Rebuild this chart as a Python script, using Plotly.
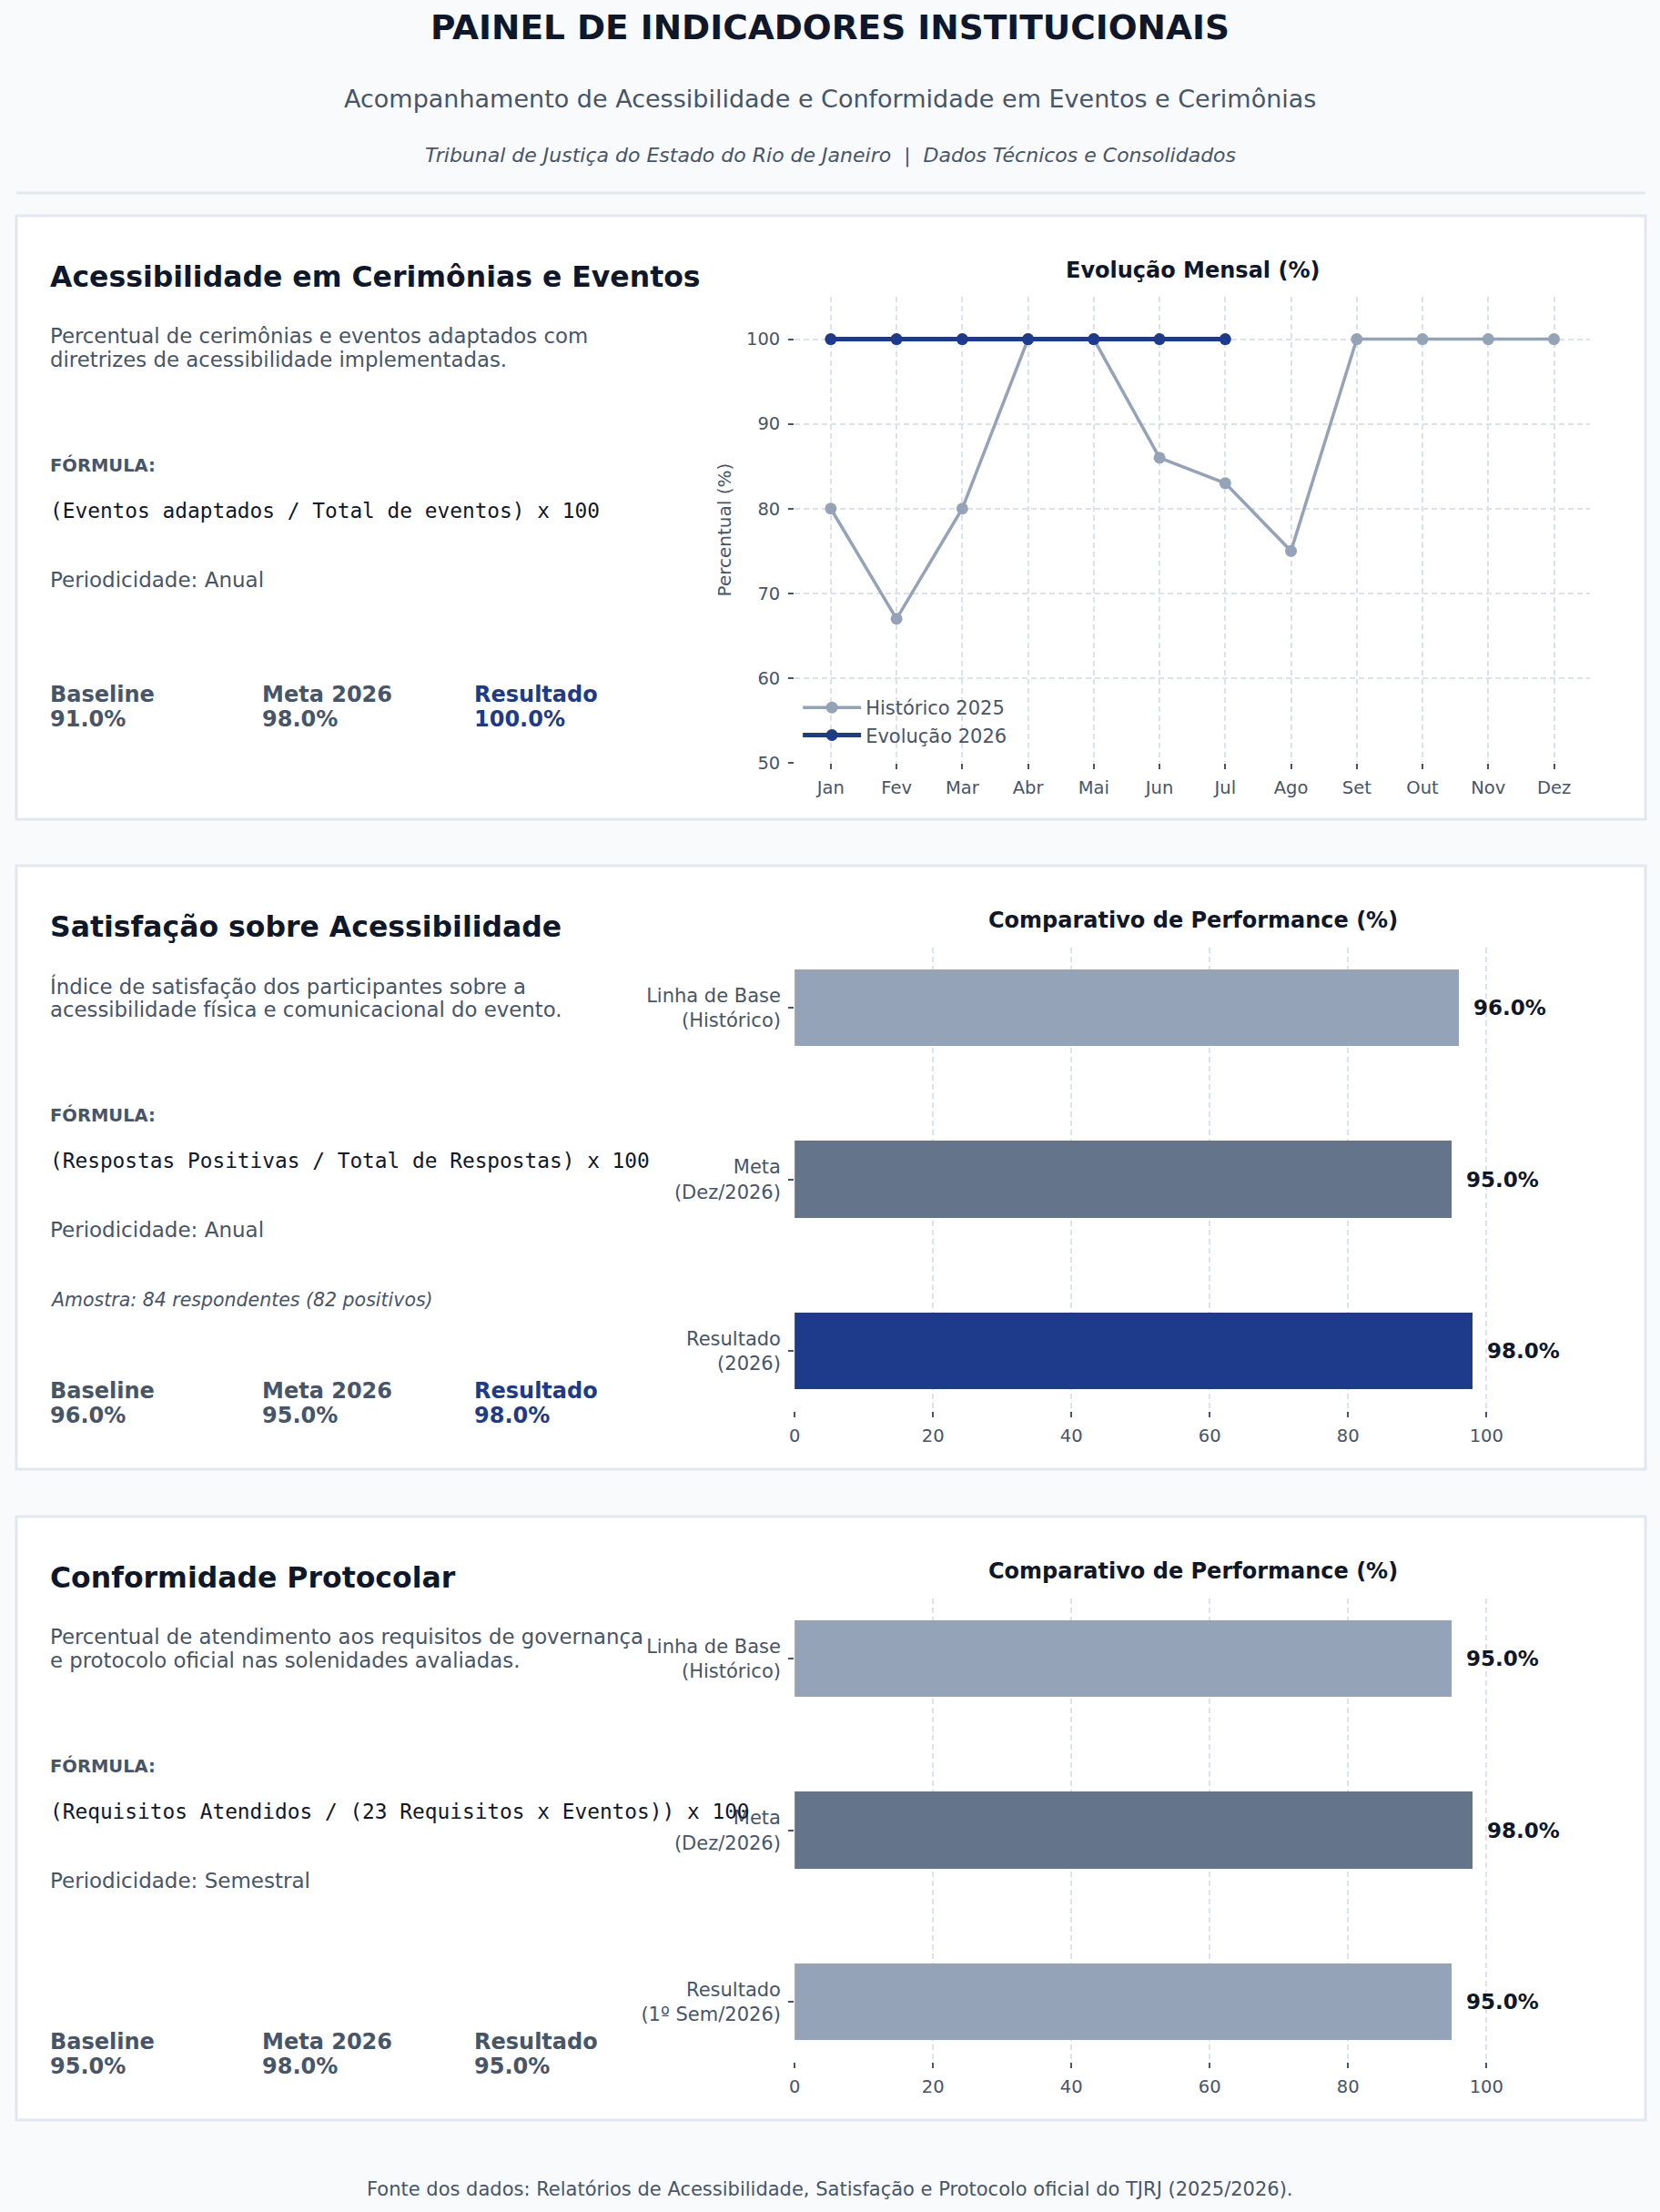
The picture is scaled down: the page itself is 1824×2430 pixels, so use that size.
import plotly.graph_objects as go

W, H = 1824, 2430
FONT = "DejaVu Sans"
MONO = "DejaVu Sans Mono"

DARK = "#0f172a"
SLATE = "#475569"
NAVY = "#1e3a8a"
GRAY = "#94a3b8"
GRAY_DARK = "#64748b"
BORDER = "#e2e8f0"
GRID = "#dce2ea"

# ---- dados ----
months = ["Jan", "Fev", "Mar", "Abr", "Mai", "Jun", "Jul", "Ago", "Set", "Out", "Nov", "Dez"]
hist_2025 = [80, 67, 80, 100, 100, 86, 83, 75, 100, 100, 100, 100]
months_2026 = ["Jan", "Fev", "Mar", "Abr", "Mai", "Jun", "Jul"]
evol_2026 = [100, 100, 100, 100, 100, 100, 100]

sat_labels = ["Linha de Base<br>(Histórico)", "Meta<br>(Dez/2026)", "Resultado<br>(2026)"]
sat_values = [96.0, 95.0, 98.0]

conf_labels = ["Linha de Base<br>(Histórico)", "Meta<br>(Dez/2026)", "Resultado<br>(1º Sem/2026)"]
conf_values = [95.0, 98.0, 95.0]

kpi_names = ["Baseline", "Meta 2026", "Resultado"]
kpi_acess = [91.0, 98.0, 100.0]
kpi_sat = [96.0, 95.0, 98.0]
kpi_conf = [95.0, 98.0, 95.0]

titles = ["Acessibilidade em Cerimônias e Eventos",
          "Satisfação sobre Acessibilidade",
          "Conformidade Protocolar"]
descriptions = [
    ["Percentual de cerimônias e eventos adaptados com",
     "diretrizes de acessibilidade implementadas."],
    ["Índice de satisfação dos participantes sobre a",
     "acessibilidade física e comunicacional do evento."],
    ["Percentual de atendimento aos requisitos de governança",
     "e protocolo oficial nas solenidades avaliadas."],
]
formulas = ["(Eventos adaptados / Total de eventos) x 100",
            "(Respostas Positivas / Total de Respostas) x 100",
            "(Requisitos Atendidos / (23 Requisitos x Eventos)) x 100"]
periods = ["Periodicidade: Anual", "Periodicidade: Anual", "Periodicidade: Semestral"]
sample_note = "Amostra: 84 respondentes (82 positivos)"

sat_colors = [GRAY, GRAY_DARK, NAVY]
conf_colors = [GRAY, GRAY_DARK, GRAY]


def fx(x):
    return x / W


def fy(y):
    # small vertical stretch to line up with the reference layout
    return 1 - (y * 1.005) / H


fig = go.Figure()


def note(x, y, text, size, color, family=FONT, xanchor="left"):
    fig.add_annotation(x=fx(x), y=fy(y), xref="paper", yref="paper", text=text,
                       showarrow=False, xanchor=xanchor, yanchor="middle",
                       font=dict(size=size, color=color, family=family))


# header
note(909, 30, "<b>PAINEL DE INDICADORES INSTITUCIONAIS</b>", 37.5, DARK, xanchor="center")
note(909, 108, "Acompanhamento de Acessibilidade e Conformidade em Eventos e Cerimônias", 27, SLATE, xanchor="center")
note(909, 171, "<i>Tribunal de Justiça do Estado do Rio de Janeiro  |  Dados Técnicos e Consolidados</i>", 22, SLATE, xanchor="center")
fig.add_shape(type="line", xref="paper", yref="paper", x0=fx(12), x1=fx(1808), y0=fy(212), y1=fy(212),
              line=dict(color=BORDER, width=3))

# panels
tops = [237, 951, 1666]
for top in tops:
    fig.add_shape(type="rect", xref="paper", yref="paper", x0=fx(12), x1=fx(1808),
                  y0=fy(top), y1=fy(top + 663), fillcolor="white",
                  line=dict(color=BORDER, width=3), layer="below")

kpis = [kpi_acess, kpi_sat, kpi_conf]
highlight = [True, True, False]
LX = 47
for i, top in enumerate(tops):
    note(LX, top + 67, f"<b>{titles[i]}</b>", 31.5, DARK)
    note(LX, top + 132, descriptions[i][0], 22.8, SLATE)
    note(LX, top + 158, descriptions[i][1], 22.8, SLATE)
    note(LX, top + 274, "<b>FÓRMULA:</b>", 19.5, SLATE)
    note(LX, top + 324, formulas[i], 22.8, DARK, family=MONO)
    note(LX, top + 400, periods[i], 23, SLATE)
    if i == 1:
        note(LX, top + 477, f"<i>{sample_note}</i>", 20.5, SLATE)
    ky = top + (526 if i == 0 else 577)
    for j, (name, val) in enumerate(zip(kpi_names, kpis[i])):
        col = NAVY if (j == 2 and highlight[i]) else SLATE
        note(LX + j * 234, ky, f"<b>{name}</b>", 24, col)
        note(LX + j * 234, ky + 27, f"<b>{val:.1f}%</b>", 24, col)

# chart titles
note(1309, tops[0] + 60, "<b>Evolução Mensal (%)</b>", 24, DARK, xanchor="center")
note(1309, tops[1] + 60, "<b>Comparativo de Performance (%)</b>", 24, DARK, xanchor="center")
note(1309, tops[2] + 60, "<b>Comparativo de Performance (%)</b>", 24, DARK, xanchor="center")

# line chart
fig.add_trace(go.Scatter(x=months, y=hist_2025, mode="lines+markers", name="Histórico 2025",
                         line=dict(color=GRAY, width=3.5), marker=dict(size=13, color=GRAY),
                         xaxis="x", yaxis="y"))
fig.add_trace(go.Scatter(x=months_2026, y=evol_2026, mode="lines+markers", name="Evolução 2026",
                         line=dict(color=NAVY, width=5), marker=dict(size=13, color=NAVY),
                         xaxis="x", yaxis="y"))

# bar charts
fig.add_trace(go.Bar(x=sat_values, y=[0, 1, 2], orientation="h", width=0.45,
                     marker=dict(color=sat_colors, line=dict(width=0)), showlegend=False,
                     xaxis="x2", yaxis="y2"))
fig.add_trace(go.Bar(x=conf_values, y=[0, 1, 2], orientation="h", width=0.45,
                     marker=dict(color=conf_colors, line=dict(width=0)), showlegend=False,
                     xaxis="x3", yaxis="y3"))

for ax, vals in (("2", sat_values), ("3", conf_values)):
    for k, v in enumerate(vals):
        fig.add_annotation(x=v, y=k, xref="x" + ax, yref="y" + ax, text=f"<b>{v:.1f}%</b>",
                           showarrow=False, xanchor="left", yanchor="middle", xshift=14,
                           font=dict(size=23, color=DARK, family=FONT))

tick_font = dict(size=19.5, color=SLATE, family=FONT)
grid_common = dict(showgrid=True, gridcolor=GRID, griddash="6px,4px", gridwidth=1.5,
                   showline=False, zeroline=False, ticks="outside", ticklen=6,
                   tickwidth=1.5, tickcolor=SLATE, tickfont=tick_font)
ycat_common = dict(showgrid=False, showline=False, zeroline=False, ticks="outside", ticklen=6,
                   tickwidth=1.5, tickcolor=SLATE, ticklabelstandoff=4,
                   tickfont=dict(size=21, color=SLATE, family=FONT))
xdom = [fx(870), fx(1747)]

fig.update_layout(
    width=W, height=H,
    margin=dict(l=0, r=0, t=0, b=0),
    paper_bgcolor="#f8fafc",
    plot_bgcolor="rgba(0,0,0,0)",
    font=dict(family=FONT, color=SLATE),
    showlegend=True,
    legend=dict(x=fx(874), y=fy(757), xanchor="left", yanchor="top",
                bgcolor="rgba(0,0,0,0)", font=dict(size=21, color=SLATE, family=FONT),
                tracegroupgap=0, itemwidth=64),
    xaxis=dict(domain=xdom, anchor="y", range=[-0.55, 11.55], ticklabelstandoff=4,
               **grid_common),
    yaxis=dict(domain=[fy(838), fy(326)], anchor="x", range=[50, 105],
               tickvals=[50, 60, 70, 80, 90, 100], ticklabelstandoff=5,
               title=dict(text="Percentual (%)", font=dict(size=20, color=SLATE), standoff=10),
               **grid_common),
    xaxis2=dict(domain=xdom, anchor="y2", range=[0, 115], tickvals=[0, 20, 40, 60, 80, 100],
                ticklabelstandoff=4, **grid_common),
    yaxis2=dict(domain=[fy(1550), fy(1041)], anchor="x2", range=[2.35, -0.35],
                tickvals=[0, 1, 2], ticktext=sat_labels, **ycat_common),
    xaxis3=dict(domain=xdom, anchor="y3", range=[0, 115], tickvals=[0, 20, 40, 60, 80, 100],
                ticklabelstandoff=4, **grid_common),
    yaxis3=dict(domain=[fy(2265), fy(1756)], anchor="x3", range=[2.35, -0.35],
                tickvals=[0, 1, 2], ticktext=conf_labels, **ycat_common),
    bargap=0,
)

# footer
note(909, 2405, "Fonte dos dados: Relatórios de Acessibilidade, Satisfação e Protocolo oficial do TJRJ (2025/2026).",
     21, SLATE, xanchor="center")

fig.write_html("out.html", config={"displayModeBar": False, "responsive": False},
               post_script="document.body.style.margin='0';"
                           "document.documentElement.style.overflow='hidden';")
